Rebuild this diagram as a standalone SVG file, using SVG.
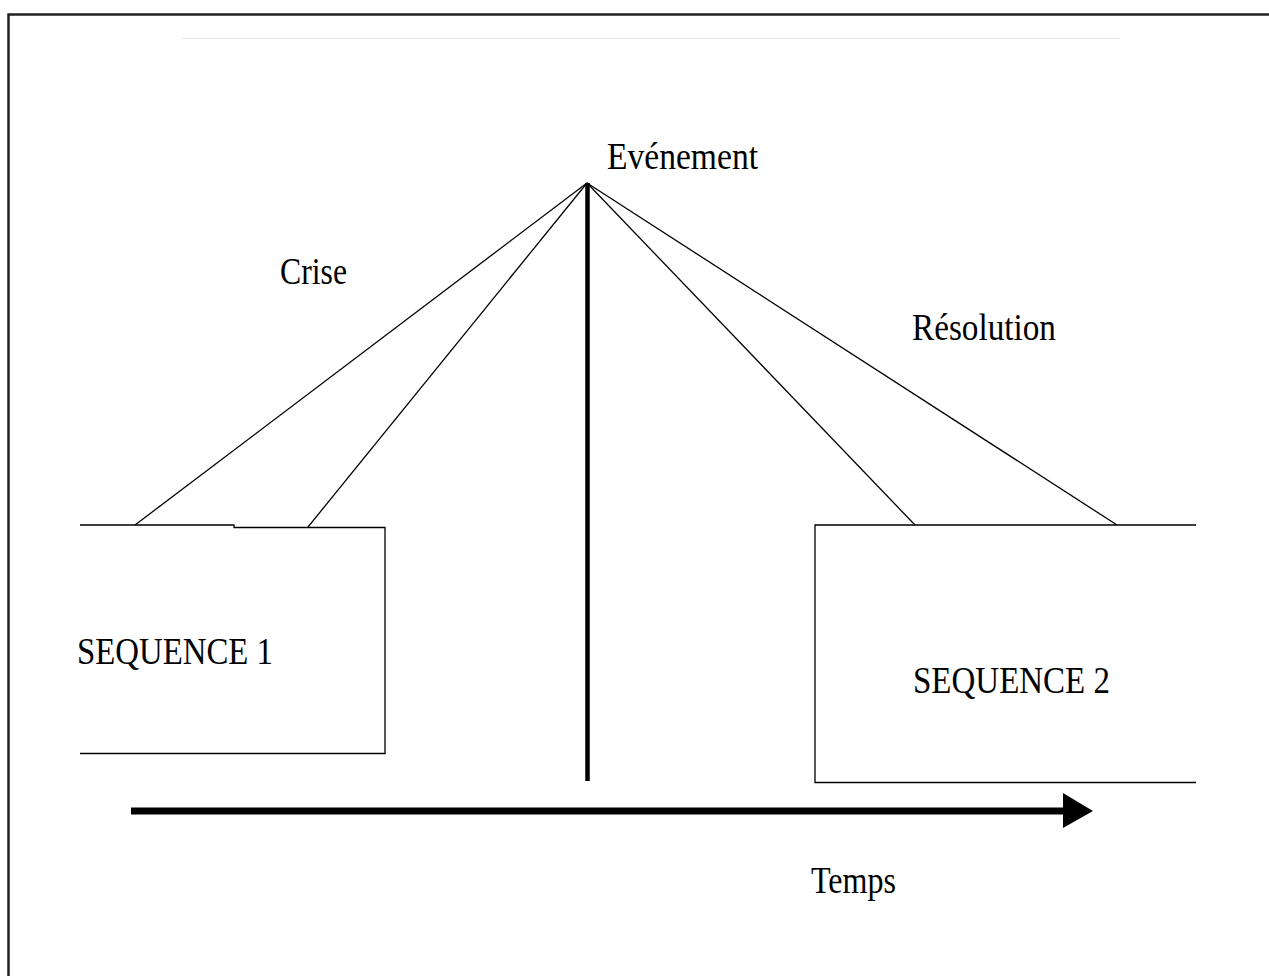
<svg xmlns="http://www.w3.org/2000/svg" width="1269" height="976" viewBox="0 0 1269 976">
<style>
text{font-family:"Liberation Serif","Times New Roman",serif;font-size:38px;fill:#000}
.thin{stroke:#000;stroke-width:1.3;fill:none}
</style>
<rect x="0" y="0" width="1269" height="976" fill="#fff"/>
<path d="M8.5,990 V14.5 H1280" fill="none" stroke="#222" stroke-width="2.5"/>
<line x1="182" y1="38.5" x2="1120" y2="38.5" stroke="#e8e8e8" stroke-width="1"/>
<g id="seq1">
<path class="thin" d="M80,525 H234 V527.5 H385 V753.5 H80"/>
<text x="77" y="664" textLength="196" lengthAdjust="spacingAndGlyphs">SEQUENCE 1</text>
</g>
<g id="seq2">
<path class="thin" d="M1196,525 H815 V782.5 H1196"/>
<text x="913" y="693" textLength="197" lengthAdjust="spacingAndGlyphs">SEQUENCE 2</text>
</g>
<g id="evenement">
<text x="607" y="169" textLength="151" lengthAdjust="spacingAndGlyphs">Evénement</text>
</g>
<g id="crise"><text x="280" y="284" textLength="67" lengthAdjust="spacingAndGlyphs">Crise</text></g>
<g id="resolution"><text x="912" y="340" textLength="144" lengthAdjust="spacingAndGlyphs">Résolution</text></g>
<g id="temps"><text x="811" y="893" textLength="85" lengthAdjust="spacingAndGlyphs">Temps</text></g>
<g id="connectors">
<line class="thin" x1="587" y1="183" x2="135" y2="525"/>
<line class="thin" x1="587" y1="183" x2="308" y2="527"/>
<line class="thin" x1="587" y1="183" x2="915" y2="525"/>
<line class="thin" x1="587" y1="183" x2="1117" y2="525"/>
<line x1="587.5" y1="183" x2="587.5" y2="781" stroke="#000" stroke-width="4.5"/>
<line x1="131" y1="811" x2="1066" y2="811" stroke="#000" stroke-width="7"/>
<polygon points="1063,793 1093,811 1063,828" fill="#000"/>
</g>
</svg>
